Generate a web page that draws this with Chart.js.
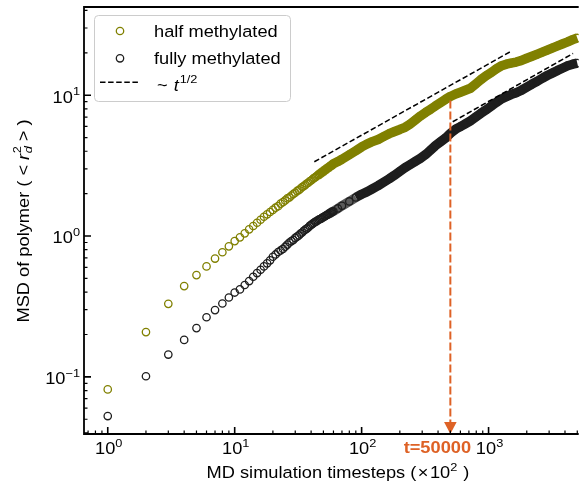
<!DOCTYPE html>
<html>
<head>
<meta charset="utf-8">
<script src="https://cdn.jsdelivr.net/npm/chart.js@4.4.0/dist/chart.umd.min.js"></script>
<style>
  html, body { margin: 0; padding: 0; background: #fff; }
  #msd { display: block; }
</style>
</head>
<body>
<canvas id="msd" width="584" height="486"></canvas>
<script>
// MD timesteps (x100): every step up to 60, then thinned out along the log axis
const timesteps = [
  1, 2, 3, 4, 5, 6, 7, 8, 9, 10, 11, 12, 13, 14, 15, 16, 17, 18, 19, 20,
  21, 22, 23, 24, 25, 26, 27, 28, 29, 30, 31, 32, 33, 34, 35, 36, 37, 38, 39, 40,
  41, 42, 43, 44, 45, 46, 47, 48, 49, 50, 51, 52, 53, 54, 55, 56, 57, 58, 59, 60,
  65, 70, 80, 90, 100, 110, 120, 135, 150, 165,
  180, 200, 220, 240, 265, 290, 320, 350, 380, 420,
  460, 500, 550, 600, 650, 720, 790, 870, 950, 1050,
  1150, 1250, 1380, 1500, 1650, 1800, 2000, 2200, 2400, 2650,
  2900, 3200, 3500, 3850, 4200, 4600, 5000
];

const halfMSD = [
  0.0815, 0.208, 0.330, 0.441, 0.528, 0.609, 0.692, 0.767, 0.845, 0.921,
  0.979, 1.045, 1.116, 1.178, 1.243, 1.305, 1.371, 1.426, 1.481, 1.533,
  1.59, 1.63, 1.70, 1.74, 1.79, 1.85, 1.88, 1.94, 1.99, 2.03,
  2.09, 2.12, 2.17, 2.23, 2.26, 2.31, 2.36, 2.39, 2.45, 2.48,
  2.53, 2.58, 2.61, 2.65, 2.70, 2.73, 2.77, 2.81, 2.85, 2.88,
  2.93, 2.96, 3.00, 3.04, 3.07, 3.11, 3.15, 3.18, 3.22, 3.26,
  3.38, 3.51, 3.78, 4.03, 4.29, 4.50, 4.66, 4.85, 5.10, 5.33,
  5.50, 5.71, 5.92, 6.23, 6.68, 7.11, 7.56, 7.96, 8.37, 8.87,
  9.37, 9.80, 10.2, 10.5, 10.8, 11.2, 12.0, 12.9, 13.7, 14.5,
  15.4, 16.1, 16.6, 16.9, 17.2, 17.6, 18.3, 18.9, 19.5, 20.2,
  20.9, 21.7, 22.4, 23.2, 23.9, 24.8, 25.5
];

const fullMSD = [
  0.0527, 0.101, 0.144, 0.183, 0.222, 0.265, 0.298, 0.332, 0.366, 0.397,
  0.418, 0.449, 0.479, 0.514, 0.546, 0.576, 0.609, 0.640, 0.672, 0.713,
  0.74, 0.77, 0.79, 0.81, 0.84, 0.87, 0.90, 0.92, 0.94, 0.97,
  0.99, 1.01, 1.04, 1.06, 1.09, 1.11, 1.13, 1.15, 1.18, 1.20,
  1.22, 1.24, 1.26, 1.27, 1.29, 1.31, 1.32, 1.33, 1.35, 1.36,
  1.38, 1.39, 1.41, 1.42, 1.43, 1.45, 1.46, 1.48, 1.49, 1.50,
  1.57, 1.64, 1.76, 1.88, 1.98, 2.06, 2.15, 2.28, 2.42, 2.55,
  2.69, 2.88, 3.06, 3.21, 3.39, 3.56, 3.80, 4.09, 4.37, 4.68,
  4.98, 5.36, 5.74, 5.99, 6.23, 6.58, 6.99, 7.44, 7.85, 8.37,
  8.88, 9.35, 9.76, 10.1, 10.4, 10.8, 11.4, 12.0, 12.5, 13.2,
  13.8, 14.4, 15.0, 15.6, 16.2, 16.6, 16.9
];

// t^(1/2) guide lines (end points)
const guideHalfT = [42.4, 1490];
const guideHalfMSD = [3.37, 20.4];
const guideFullT = [522, 4630];
const guideFullMSD = [6.48, 19.8];

const xTicks = [1, 10, 100, 1000];
const yTicks = [0.1, 1, 10];

// marked time (raw steps), axis is in units of 100 steps
const markStep = 50000;
const stepUnit = 100;

const OLIVE = '#808000';
const DARK = '#1e1e1e';
const ORANGE = '#de6226';
const FONT = '"Liberation Sans", Arial, Helvetica, sans-serif';
const TXT = 16.3;
const WIDEN = 1.12;

function toPoints(xs, ys) {
  return xs.map((x, i) => ({ x: x, y: ys[i] }));
}

// markers overlap into a solid band once the steps get dense;
// bands: [from, colour] pairs, the first one starts the band
function markerSeries(label, ys, color, bands, order) {
  const bandColor = x => {
    let c = 'rgba(0,0,0,0)';
    bands.forEach(b => { if (x >= b[0]) c = b[1]; });
    return c;
  };
  return {
    label: label,
    data: toPoints(timesteps, ys),
    showLine: true,
    borderColor: color,
    borderWidth: 9.5,
    borderCapStyle: 'butt',
    borderJoinStyle: 'round',
    segment: {
      borderColor: c => bandColor(c.p0.parsed.x)
    },
    pointRadius: 3.7,
    pointBorderWidth: 1.3,
    pointBorderColor: color,
    pointBackgroundColor: 'rgba(0,0,0,0)',
    order: order
  };
}

function guideSeries(xs, ys) {
  return {
    data: toPoints(xs, ys),
    showLine: true,
    borderColor: '#000',
    borderWidth: 1.5,
    borderDash: [5.5, 2.6],
    pointRadius: 0,
    order: 0
  };
}

// text with optional super/subscripts, slightly widened
function drawRich(ctx, parts, x, y, align, color) {
  const runs = [];
  let adv = 0;
  parts.forEach(p => {
    const size = (p.sup || p.sub) ? TXT * 0.7 : TXT;
    const font = (p.italic ? 'italic ' : '') + (p.bold ? 'bold ' : '') + size + 'px ' + FONT;
    ctx.font = font;
    const w = ctx.measureText(p.t).width * WIDEN;
    const dy = p.sup ? -TXT * 0.45 : (p.sub ? TXT * 0.22 : 0);
    runs.push({ t: p.t, font: font, x: adv + (p.pad || 0), dy: dy });
    if (!p.hold) adv += w + (p.pad || 0) + (p.after || 0);
  });
  const x0 = align === 'center' ? x - adv / 2 : (align === 'right' ? x - adv : x);
  runs.forEach(r => {
    ctx.save();
    ctx.fillStyle = color || '#000';
    ctx.font = r.font;
    ctx.textAlign = 'left';
    ctx.textBaseline = 'alphabetic';
    ctx.translate(x0 + r.x, y + r.dy);
    ctx.scale(WIDEN, 1);
    ctx.fillText(r.t, 0, 0);
    ctx.restore();
  });
}

function powerLabel(v) {
  const e = Math.round(Math.log10(v));
  return [{ t: '10' }, { t: e < 0 ? '\u2212' + (-e) : String(e), sup: true }];
}

function minorTicks(min, max) {
  const out = [];
  for (let e = Math.floor(Math.log10(min)); e <= Math.ceil(Math.log10(max)); e++) {
    for (let k = 2; k <= 9; k++) {
      const v = k * Math.pow(10, e);
      if (v >= min && v <= max) out.push(v);
    }
  }
  return out;
}

const axesPlugin = {
  id: 'axesPlugin',
  afterDatasetsDraw(chart) {
    const ctx = chart.ctx;
    const xs = chart.scales.x;
    const ys = chart.scales.y;
    const a = chart.chartArea;

    // arrow marking t = 50000, hanging from the half-methylated band
    const tMark = markStep / stepUnit;
    const mx = xs.getPixelForValue(tMark);
    const topY = ys.getPixelForValue(halfMSD[timesteps.indexOf(tMark)]) + 4;
    const headLen = 12;
    ctx.save();
    ctx.strokeStyle = ORANGE;
    ctx.lineWidth = 2;
    ctx.setLineDash([8, 3]);
    ctx.beginPath();
    ctx.moveTo(mx, topY);
    ctx.lineTo(mx, a.bottom - headLen);
    ctx.stroke();
    ctx.setLineDash([]);
    ctx.fillStyle = ORANGE;
    ctx.beginPath();
    ctx.moveTo(mx, a.bottom);
    ctx.lineTo(mx - 6.3, a.bottom - headLen);
    ctx.lineTo(mx + 6.3, a.bottom - headLen);
    ctx.closePath();
    ctx.fill();
    ctx.restore();

    // spines (right side runs off the canvas)
    ctx.save();
    ctx.strokeStyle = '#000';
    ctx.lineWidth = 1.8;
    ctx.beginPath();
    ctx.moveTo(a.left, a.top);
    ctx.lineTo(a.right, a.top);
    ctx.moveTo(a.left, a.top - 0.9);
    ctx.lineTo(a.left, a.bottom + 0.9);
    ctx.moveTo(a.left - 0.9, a.bottom);
    ctx.lineTo(a.right, a.bottom);
    ctx.stroke();

    // inward ticks
    ctx.lineWidth = 1.6;
    ctx.beginPath();
    xTicks.forEach(v => {
      const px = xs.getPixelForValue(v);
      ctx.moveTo(px, a.bottom);
      ctx.lineTo(px, a.bottom - 7);
    });
    yTicks.forEach(v => {
      const py = ys.getPixelForValue(v);
      ctx.moveTo(a.left, py);
      ctx.lineTo(a.left + 7, py);
    });
    ctx.stroke();
    ctx.lineWidth = 1.2;
    ctx.beginPath();
    minorTicks(xs.min, xs.max).forEach(v => {
      const px = xs.getPixelForValue(v);
      ctx.moveTo(px, a.bottom);
      ctx.lineTo(px, a.bottom - 3.5);
    });
    minorTicks(ys.min, ys.max).forEach(v => {
      const py = ys.getPixelForValue(v);
      ctx.moveTo(a.left, py);
      ctx.lineTo(a.left + 3.5, py);
    });
    ctx.stroke();
    ctx.restore();

    // tick labels
    xTicks.forEach(v => drawRich(ctx, powerLabel(v), xs.getPixelForValue(v) + 1, a.bottom + 20.3, 'center'));
    yTicks.forEach(v => drawRich(ctx, powerLabel(v), a.left - 4, ys.getPixelForValue(v) + 7.3, 'right'));
    drawRich(ctx, [{ t: 't=' + markStep, bold: true }], mx - 13, a.bottom + 19.3, 'center', ORANGE);

    // axis titles
    drawRich(ctx, [
      { t: 'MD simulation timesteps (' },
      { t: '\u00d7', pad: 1.5 },
      { t: '10', pad: 1.5 },
      { t: '2', sup: true, after: 6 },
      { t: ')' }
    ], 338, 478.3, 'center');

    ctx.save();
    ctx.translate(28.5, 221);
    ctx.rotate(-Math.PI / 2);
    drawRich(ctx, [
      { t: 'MSD of polymer ( ' },
      { t: '<', after: 2 },
      { t: 'r', italic: true, pad: 3 },
      { t: 'd', italic: true, sub: true, hold: true, pad: 0.5 },
      { t: '2', sup: true, pad: 0.5 },
      { t: '>', pad: 5 },
      { t: ' )' }
    ], 0, 0, 'center');
    ctx.restore();

    // legend
    ctx.save();
    ctx.beginPath();
    ctx.roundRect(94.5, 15.5, 196, 86, 4);
    ctx.fillStyle = 'rgba(255,255,255,0.85)';
    ctx.fill();
    ctx.strokeStyle = '#cccccc';
    ctx.lineWidth = 1;
    ctx.stroke();
    ctx.lineWidth = 1.3;
    ctx.strokeStyle = OLIVE;
    ctx.beginPath();
    ctx.arc(120, 31, 3.7, 0, Math.PI * 2);
    ctx.stroke();
    ctx.strokeStyle = DARK;
    ctx.beginPath();
    ctx.arc(120, 58.3, 3.7, 0, Math.PI * 2);
    ctx.stroke();
    ctx.strokeStyle = '#000';
    ctx.lineWidth = 1.5;
    ctx.setLineDash([5.5, 2.6]);
    ctx.beginPath();
    ctx.moveTo(100, 82.3);
    ctx.lineTo(139, 82.3);
    ctx.stroke();
    ctx.restore();
    drawRich(ctx, [{ t: chart.data.datasets[0].label }], 154, 37.3, 'left');
    drawRich(ctx, [{ t: chart.data.datasets[1].label }], 154, 64, 'left');
    drawRich(ctx, [
      { t: '~', after: 6 },
      { t: 't', italic: true },
      { t: '1/2', sup: true, pad: 1 }
    ], 157, 90.7, 'left');
  }
};

new Chart(document.getElementById('msd'), {
  type: 'scatter',
  data: {
    datasets: [
      markerSeries('half methylated', halfMSD, OLIVE, [[45, '#94941e'], [56, OLIVE]], 1),
      markerSeries('fully methylated', fullMSD, DARK, [[55, '#5a5a5a'], [90, DARK]], 2),
      guideSeries(guideHalfT, guideHalfMSD),
      guideSeries(guideFullT, guideFullMSD)
    ]
  },
  options: {
    responsive: false,
    animation: false,
    devicePixelRatio: 1,
    layout: { padding: { left: 84, top: 7, right: 0, bottom: 52 } },
    plugins: {
      legend: { display: false },
      tooltip: { enabled: false }
    },
    scales: {
      x: { type: 'logarithmic', display: false, min: 0.65, max: 5130 },
      y: { type: 'logarithmic', display: false, min: 0.0393, max: 42.3 }
    }
  },
  plugins: [axesPlugin]
});
</script>
</body>
</html>
